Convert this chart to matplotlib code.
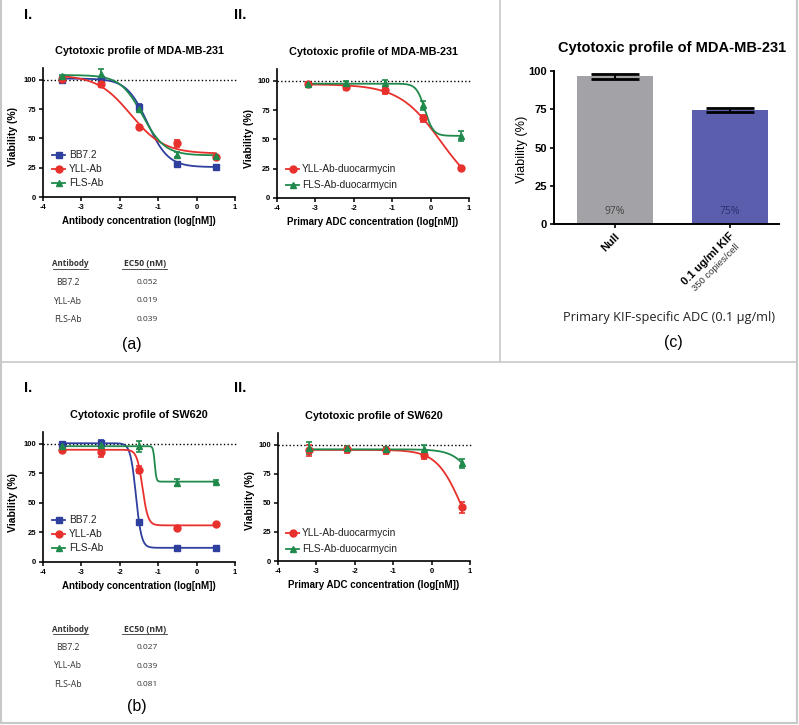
import numpy as np
import matplotlib
matplotlib.use('Agg')
import matplotlib.pyplot as plt
from matplotlib.lines import Line2D

W, H = 799, 725
plt.rcParams['font.family'] = ['Liberation Sans', 'DejaVu Sans']
plt.rcParams['axes.unicode_minus'] = False

# ---------------- data ----------------
ab_x = [-3.5, -2.5, -1.5, -0.5, 0.5]
adc_x = [-3.2, -2.2, -1.2, -0.2, 0.8]

# MDA-MB-231, antibody
mda_ab = {
    'BB7.2':  ([100, 101, 77, 28, 26], [0.5, 1.5, 2.5, 1, 1]),
    'YLL-Ab': ([101, 96, 60, 46, 34], [1, 2.5, 1, 3, 1]),
    'FLS-Ab': ([103, 105, 75, 36, 35], [1, 4, 2, 2, 1]),
}
# fit params: top, bottom, logEC50, hill
mda_ab_fit = {
    'BB7.2':  (101, 25.5, -1.28, 1.6),
    'YLL-Ab': (104, 37, -1.72, 1.0),
    'FLS-Ab': (104, 35.5, -1.41, 1.5),
}
# MDA-MB-231, ADC
mda_adc = {
    'YLL-Ab-duocarmycin': ([97, 95, 92, 68, 26], [1.5, 2.5, 3, 3, 1]),
    'FLS-Ab-duocarmycin': ([97, 98, 98, 79, 53], [1, 2, 3, 4, 4]),
}
mda_adc_fit = {
    'YLL-Ab-duocarmycin': (97, 0, 0.26, 0.8),
    'FLS-Ab-duocarmycin': (97.5, 53, -0.15, 4.0),
}
# SW620, antibody
sw_ab = {
    'BB7.2':  ([100, 101, 34, 12, 12], [0.5, 2.5, 1.5, 1, 1]),
    'YLL-Ab': ([95, 93, 78, 29, 32], [1, 4.5, 3, 1, 1]),
    'FLS-Ab': ([98, 99, 98, 67, 68], [1, 1, 4.5, 3, 1]),
}
sw_ab_fit = {
    'BB7.2':  (100.5, 12, -1.58, 6),
    'YLL-Ab': (95, 31, -1.41, 6),
    'FLS-Ab': (98, 68, -1.09, 20),
}
# SW620, ADC
sw_adc = {
    'YLL-Ab-duocarmycin': ([95, 96, 95, 91, 46], [5, 3, 3, 3, 5]),
    'FLS-Ab-duocarmycin': ([97, 97, 96, 96, 84], [5, 2, 2, 4, 4]),
}
sw_adc_fit = {
    'YLL-Ab-duocarmycin': (95.5, 0, 0.776, 1.34),
    'FLS-Ab-duocarmycin': (96, 0, 1.36, 1.5),
}

ec50_names = ['BB7.2', 'YLL-Ab', 'FLS-Ab']
ec50_a = ['0.052', '0.019', '0.039']
ec50_b = ['0.027', '0.039', '0.081']

bar_labels = ['Null', '0.1 ug/ml KIF']
bar_vals = [96.5, 74.5]
bar_err = [1.5, 1.5]
bar_text = ['97%', '75%']

style = {
    'BB7.2': ('#2E3F9E', 's'),
    'YLL-Ab': ('#E8302C', 'o'),
    'FLS-Ab': ('#1F8A4C', '^'),
    'YLL-Ab-duocarmycin': ('#E8302C', 'o'),
    'FLS-Ab-duocarmycin': ('#1F8A4C', '^'),
}

fig = plt.figure(figsize=(W / 100, H / 100), dpi=100)


def add_ax(x0, x1, y0, y1):
    return fig.add_axes([x0 / W, 1 - y1 / H, (x1 - x0) / W, (y1 - y0) / H])


def T(x, y, s, **kw):
    kw.setdefault('ha', 'center')
    kw.setdefault('va', 'center')
    return fig.text(x / W, 1 - y / H, s, **kw)


def L(x0, y0, x1, y1, **kw):
    fig.add_artist(Line2D([x0 / W, x1 / W], [1 - y0 / H, 1 - y1 / H], **kw))


def logistic(x, top, bottom, c, h):
    return bottom + (top - bottom) / (1 + 10 ** (h * (x - c)))


def dose_panel(box, xs, data, fits, title, xlabel, ylab_x, leg_y, leg_x):
    x0, x1, y0, y1 = box
    ax = add_ax(x0, x1, y0, y1)
    ax.axhline(100, ls=':', color='k', lw=1, xmin=0, xmax=1.01, clip_on=False)
    xx = np.linspace(xs[0], xs[-1], 300)
    for name, (vals, errs) in data.items():
        col, mk = style[name]
        ax.plot(xx, logistic(xx, *fits[name]), color=col, lw=1.3)
        ax.errorbar(xs, vals, yerr=errs, fmt=mk, color=col, ms=5,
                    elinewidth=1.2, capsize=2.5, capthick=1.2)
    ax.set_xlim(-4, 1)
    ax.set_ylim(0, 110)
    ax.set_xticks([-4, -3, -2, -1, 0, 1])
    ax.set_yticks([0, 25, 50, 75, 100])
    for s in ['top', 'right']:
        ax.spines[s].set_visible(False)
    for s in ['left', 'bottom']:
        ax.spines[s].set_linewidth(1.2)
    ax.tick_params(direction='out', length=3, width=1.1, labelsize=5.5, pad=2)
    for lab in ax.get_xticklabels() + ax.get_yticklabels():
        lab.set_fontweight('bold')
    # legend drawn manually
    for i, name in enumerate(data):
        col, mk = style[name]
        y = leg_y + i * leg_x[2]
        L(leg_x[0], y, leg_x[0] + 13, y, color=col, lw=1.3)
        fig.add_artist(Line2D([(leg_x[0] + 6.5) / W], [1 - y / H], color=col,
                              marker=mk, ms=5, lw=0))
        T(leg_x[1], y, name, ha='left', fontsize=7.3, color='#222222')
    cx = (x0 + x1) / 2
    T(cx, y0 - 17, title, fontsize=7.8, fontweight='bold')
    T(cx, y1 + 24, xlabel, fontsize=7, fontweight='bold')
    T(ylab_x, y1 - 60, 'Viability (%)', fontsize=7.5, fontweight='bold', rotation=90)
    return ax


dose_panel((43, 235, 68, 197), ab_x, mda_ab, mda_ab_fit,
           'Cytotoxic profile of MDA-MB-231', 'Antibody concentration (log[nM])',
           13, 155, (52, 69, 14))
dose_panel((277, 469, 69, 198), adc_x, mda_adc, mda_adc_fit,
           'Cytotoxic profile of MDA-MB-231', 'Primary ADC concentration (log[nM])',
           249, 169, (286, 302, 15.5))
dose_panel((43, 235, 432, 562), ab_x, sw_ab, sw_ab_fit,
           'Cytotoxic profile of SW620', 'Antibody concentration (log[nM])',
           13, 520, (52, 69, 14))
dose_panel((278, 470, 433, 561), adc_x, sw_adc, sw_adc_fit,
           'Cytotoxic profile of SW620', 'Primary ADC concentration (log[nM])',
           250, 533, (286, 302, 15.5))

# roman numerals
for (x, y, s) in [(28, 15, 'I.'), (240, 15, 'II.'), (28, 388, 'I.'), (240, 388, 'II.')]:
    T(x, y, s, fontsize=10.5, fontweight='bold')


# EC50 tables
def ec50_table(y_head, vals, lab, lab_y, lab_x):
    tf = ['Open Sans', 'DejaVu Sans']
    T(70, y_head, 'Antibody', fontsize=5.8, fontweight='bold', family=tf, color='#333333')
    T(145, y_head, 'EC50 (nM)', fontsize=6.2, fontweight='bold', family=tf, color='#333333')
    L(53, y_head + 5, 88, y_head + 5, color='#333333', lw=0.6)
    L(122, y_head + 5, 167, y_head + 5, color='#333333', lw=0.6)
    for i, (n, v) in enumerate(zip(ec50_names, vals)):
        y = y_head + 18.5 * (i + 1)
        T(68, y, n, fontsize=6.3, family=tf, color='#333333')
        T(147, y, v, fontsize=6, family=tf, color='#333333')
    T(lab_x, lab_y, lab, fontsize=11.5)


ec50_table(264, ec50_a, '(a)', 344, 132)
ec50_table(629, ec50_b, '(b)', 707, 137)

# panel (c)
axc = add_ax(554, 779, 71, 224)
xpos = np.arange(len(bar_vals))
axc.bar(xpos, bar_vals, width=0.66, color=['#A3A3A7', '#5A5EAC'], zorder=1)
axc.errorbar(xpos, bar_vals, yerr=bar_err, fmt='none', ecolor='k', elinewidth=1.5,
             capsize=17, capthick=2, zorder=3)
for xp, t, c in zip(xpos, bar_text, ['#444444', '#2B2F6E']):
    axc.text(xp, 8, t, ha='center', va='center', fontsize=7.5, color=c,
             family=['Open Sans', 'DejaVu Sans'])
axc.set_xlim(-0.53, 1.43)
axc.set_ylim(0, 100)
axc.set_yticks([0, 25, 50, 75, 100])
axc.set_xticks(xpos)
axc.set_xticklabels(bar_labels, rotation=45, ha='right', rotation_mode='anchor',
                    fontsize=8.5, fontweight='bold')
axc.annotate('350 copies/cell', xy=(1, 0), xycoords=('data', 'axes fraction'),
             xytext=(4, -13.5), textcoords='offset points', rotation=45, ha='right',
             va='top', rotation_mode='anchor', fontsize=6.8, color='#333333')
for s in ['top', 'right']:
    axc.spines[s].set_visible(False)
for s in ['left', 'bottom']:
    axc.spines[s].set_linewidth(1.4)
axc.tick_params(direction='out', length=3, width=1.2, labelsize=8, pad=2)
for lab in axc.get_yticklabels():
    lab.set_fontweight('bold')
T(672, 48, 'Cytotoxic profile of MDA-MB-231', fontsize=10.5, fontweight='bold')
T(522, 149, 'Viability (%)', fontsize=9.2, rotation=90)
T(669, 317, 'Primary KIF-specific ADC (0.1 μg/ml)', fontsize=9.2,
  family=['Open Sans', 'DejaVu Sans'], color='#222222')
T(673, 343, '(c)', fontsize=11.5)

# frame lines
fc = '#C8C8C8'
L(1, 0, 1, 723, color=fc, lw=1.5)
L(500, 0, 500, 362, color=fc, lw=1.2)
L(0, 362, 797, 362, color=fc, lw=1.2)
L(797, 0, 797, 723, color=fc, lw=1.5)
L(0, 723, 797, 723, color=fc, lw=1.5)

fig.savefig('out.png', dpi=100)
